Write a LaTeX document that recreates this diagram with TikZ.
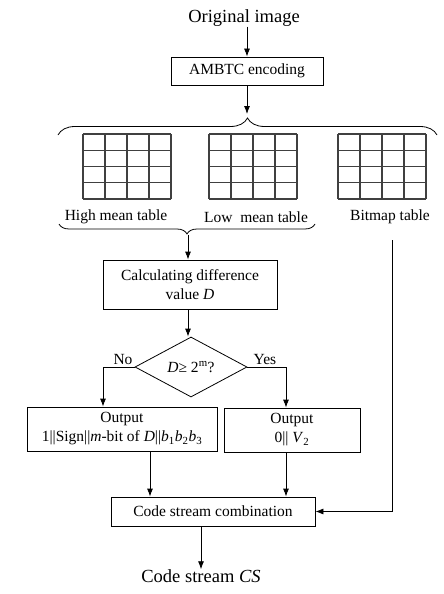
\documentclass[tikz,border=0pt]{standalone}
\usepackage{fontspec}
\setmainfont{Liberation Serif}
\usetikzlibrary{shapes.geometric,arrows.meta,decorations.pathreplacing}

\tikzset{
    box/.style={draw,line width=0.8pt,inner sep=2pt,align=center,font=\fontsize{15.5}{19}\selectfont},
    txt/.style={inner sep=0pt,font=\fontsize{15.5}{19}\selectfont},
    bigtxt/.style={inner sep=0pt,font=\fontsize{18.5}{22}\selectfont},
    flow/.style={line width=0.8pt,-{Latex[length=8pt,width=6pt]}},
    tab/.style={line width=1.3pt,black!75},
}

\begin{document}
\begin{tikzpicture}[x=1pt,y=-1pt]
    \useasboundingbox (0,0) rectangle (444,594);

    \node (orig) at (244,18) [bigtxt] {Original image};
    \node (ambtc) at (247,71) [box,minimum width=152,minimum height=28] {AMBTC encoding};

    % the three tables
    \foreach \gx in {83,209,338} {
        \foreach \i in {0,...,4} {
            \draw[tab] (\gx+22*\i,134) -- ++(0,65);
            \draw[tab] (\gx,134+16.25*\i) -- ++(88,0);
        }
    }
    \node (hml) at (116,217) [txt] {High mean table};
    \node (lml) at (256,217) [txt] {Low \ mean table};
    \node (bml) at (390,217) [txt] {Bitmap table};

    % braces
    \draw[line width=0.8pt,decorate,decoration={brace,amplitude=17pt}] (58,135) -- (437,135);
    \coordinate (toptip) at (247,114);
    \draw[line width=0.8pt,decorate,decoration={brace,mirror,amplitude=10pt}] (59,224) -- (315,224);
    \coordinate (lowtip) at (188,235);
    \coordinate (bmstart) at (392,240);

    \node (calc) at (190,284.5) [box,minimum width=174,minimum height=49] {Calculating difference\\value \textit{D}};
    \node (dec) at (191,367) [draw,line width=0.8pt,diamond,aspect=1.87,inner sep=0pt,minimum width=112,minimum height=60,
        font=\fontsize{15.5}{19}\selectfont] {\textit{D}≥ 2\textsuperscript{m}?};
    \node (no) at (123,359) [txt] {No};
    \node (yes) at (265,359) [txt] {Yes};

    \node (out1) at (122,429) [box,minimum width=190,minimum height=44]
        {Output\\1||Sign||\textit{m}-bit of \textit{D}||\textit{b}\textsubscript{1}\textit{b}\textsubscript{2}\textit{b}\textsubscript{3}};
    \node (out2) at (292,430) [box,minimum width=136,minimum height=44] {Output\\0|| \textit{V}\textsubscript{2}};
    \node (csc) at (213,511.5) [box,minimum width=204,minimum height=29] {Code stream combination};
    \node (cs) at (201,576) [bigtxt] {Code stream \textit{CS}};

    \draw[flow] (ambtc.north |- orig.south) -- (ambtc.north);
    \draw[flow] (ambtc.south) -- (toptip);
    \draw[flow] (lowtip) -- (lowtip |- calc.north);
    \draw[flow] (calc.south -| lowtip) -- (dec.north -| lowtip);
    \draw[flow] (dec.west) -| ([xshift=-19pt]out1.north);
    \draw[flow] (dec.east) -| ([xshift=-6pt]out2.north);
    \draw[flow] ([xshift=28pt]out1.south) -- ([xshift=28pt]out1.south |- csc.north);
    \draw[flow] ([xshift=-6pt]out2.south) -- ([xshift=-6pt]out2.south |- csc.north);
    \draw[flow] (bmstart) |- (csc.east);
    \draw[flow] (csc.south -| cs.north) -- (cs.north);
\end{tikzpicture}
\end{document}
